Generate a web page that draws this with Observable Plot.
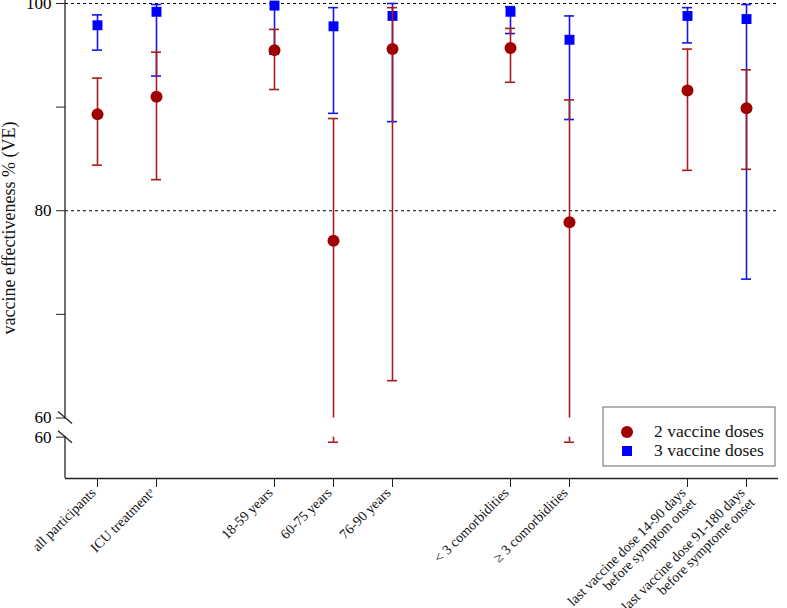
<!DOCTYPE html>
<html>
<head>
<meta charset="utf-8">
<script src="https://cdn.jsdelivr.net/npm/d3@7"></script>
<script src="https://cdn.jsdelivr.net/npm/@observablehq/plot@0.6"></script>
<style>
  html, body { margin: 0; padding: 0; background: #fff; }
  #chart { position: relative; width: 787px; height: 608px; }
  svg { font-family: "Liberation Serif", "DejaVu Serif", serif; }
</style>
</head>
<body>
<div id="chart"></div>
<script>
// ---- data ----
const categories = [
  "all participants",
  "ICU treatment\u1D43",
  "18-59 years",
  "60-75 years",
  "76-90 years",
  "< 3 comorbidities",
  "\u2265 3 comorbidities",
  "last vaccine dose 14-90 days\nbefore symptom onset",
  "last vaccine dose 91-180 days\nbefore symptome onset"
];
// group gaps sit after these category indices
const gapAfter = [1, 4, 6];

const series = ["2 vaccine doses", "3 vaccine doses"];

const twoVE  = [89.3, 91.0, 95.5, 77.1, 95.6, 95.7, 78.9, 91.6, 89.9];
const twoLo  = [84.4, 83.0, 91.7, 59.5, 63.6, 92.4, 59.5, 83.9, 84.0];
const twoHi  = [92.8, 95.3, 97.5, 88.9, 99.6, 97.6, 90.7, 95.6, 93.6];

const threeVE = [97.9, 99.2, 99.8, 97.8, 98.8, 99.2, 96.5, 98.8, 98.5];
const threeLo = [95.5, 93.0, 95.1, 89.4, 88.6, 97.1, 88.8, 96.2, 73.4];
const threeHi = [98.9, 99.9, 100.0, 99.6, 100.0, 99.7, 98.8, 99.6, 99.9];

const yTicks = [100, 90, 80, 70, 60, 59.99];
const yTickLabels = ["100", "", "80", "", "60", "60"];
const refLines = [100, 80];
const breakLow = 59.99, breakHigh = 60, yMin = 56, yMax = 100;
const gapUnits = 1.84; // visual gap of the axis break, in value units

// broken-axis mapping: values below the break are shifted down by the gap
const brk = v => (v >= breakHigh ? v : v - gapUnits);

// ---- build tables ----
const xDomain = [];
categories.forEach((c, i) => {
  xDomain.push(c);
  if (gapAfter.includes(i)) xDomain.push("\u00B7gap" + i);
});
const mk = (ve, lo, hi) => categories.map((c, i) => ({
  cat: c, ve: brk(ve[i]), lo: brk(lo[i]), hi: brk(hi[i]),
  upLo: brk(Math.max(lo[i], breakHigh)), below: lo[i] < breakHigh
}));
const rows2 = mk(twoVE, twoLo, twoHi);
const rows3 = mk(threeVE, threeLo, threeHi);
const below2 = rows2.filter(d => d.below);
const below3 = rows3.filter(d => d.below);
const tickPos = yTicks.map(brk);
const tickLabel = new Map(tickPos.map((p, i) => [p, yTickLabels[i]]));

const RED = "#a00000", REDBAR = "#a81c1c", BLUE = "#0000ff", BLUEBAR = "#1515f0";

const plot = Plot.plot({
  width: 787,
  height: 608,
  marginLeft: 65,
  marginRight: 9,
  marginTop: 3,
  marginBottom: 130,
  style: {fontFamily: "Liberation Serif, DejaVu Serif, serif", overflow: "visible"},
  x: {type: "band", domain: xDomain, paddingInner: 0.83, paddingOuter: 0.415, axis: null},
  y: {type: "linear", domain: [brk(yMin), yMax], axis: null},
  marks: [
    Plot.ruleY(refLines.map(brk), {stroke: "#000", strokeWidth: 1, strokeDasharray: "3,3"}),
    Plot.ruleY([brk(yMin)], {stroke: "#222", strokeWidth: 1.3}),
    Plot.axisY({ticks: tickPos, tickSize: 9, tickPadding: 5, fontSize: 17, stroke: "#222",
      tickFormat: d => tickLabel.get(d) ?? "", label: null}),
    Plot.axisX({ticks: categories, tickSize: 9, stroke: "#222", tickFormat: () => "", label: null}),
    // 3 doses
    Plot.ruleX(rows3, {x: "cat", y1: "upLo", y2: "hi", stroke: BLUEBAR, strokeWidth: 1.6}),
    Plot.ruleX(below3, {x: "cat", y1: "lo", y2: brk(breakLow), stroke: BLUEBAR, strokeWidth: 1.6}),
    Plot.tickY(rows3, {x: "cat", y: "lo", stroke: BLUEBAR, strokeWidth: 1.6}),
    Plot.tickY(rows3, {x: "cat", y: "hi", stroke: BLUEBAR, strokeWidth: 1.6}),
    Plot.dot(rows3, {x: "cat", y: "ve", symbol: "square", r: 5.6, fill: BLUE, stroke: null}),
    // 2 doses
    Plot.ruleX(rows2, {x: "cat", y1: "upLo", y2: "hi", stroke: REDBAR, strokeWidth: 1.6}),
    Plot.ruleX(below2, {x: "cat", y1: "lo", y2: brk(breakLow), stroke: REDBAR, strokeWidth: 1.6}),
    Plot.tickY(rows2, {x: "cat", y: "lo", stroke: REDBAR, strokeWidth: 1.6}),
    Plot.tickY(rows2, {x: "cat", y: "hi", stroke: REDBAR, strokeWidth: 1.6}),
    Plot.dot(rows2, {x: "cat", y: "ve", r: 6, fill: RED, stroke: null}),
    // category labels
    Plot.text(categories, {x: d => d, text: d => d, frameAnchor: "bottom", rotate: -45,
      textAnchor: "end", lineAnchor: "top", dy: 8, dx: -8, fontSize: 14, fill: "#111"})
  ]
});

document.getElementById("chart").appendChild(plot);

// ---- axis line with breaks, y title, legend ----
const svg = d3.select(plot);
const ys = plot.scale("y");
const xL = 65;
const yTop = ys.apply(yMax), yB1 = ys.apply(brk(breakHigh)), yB2 = ys.apply(brk(breakLow)), yBot = ys.apply(brk(yMin));
const g = svg.append("g").attr("stroke", "#222").attr("stroke-width", 1.3).attr("fill", "none");
g.append("line").attr("x1", xL).attr("x2", xL).attr("y1", yTop - 3).attr("y2", yB1 + 1);
g.append("line").attr("x1", xL).attr("x2", xL).attr("y1", yB2 - 1).attr("y2", yBot);
[yB1, yB2].forEach(yy => {
  g.append("line").attr("x1", xL - 7).attr("y1", yy - 6).attr("x2", xL + 7).attr("y2", yy + 6);
});

svg.append("text")
  .attr("transform", `translate(15,228) rotate(-90)`)
  .attr("text-anchor", "middle")
  .attr("font-size", 18)
  .attr("fill", "#111")
  .text("vaccine effectiveness % (VE)");

const lg = svg.append("g").attr("text-anchor", "start");
lg.append("rect").attr("x", 603).attr("y", 407).attr("width", 172).attr("height", 59)
  .attr("fill", "#fff").attr("stroke", "#666").attr("stroke-width", 1);
lg.append("circle").attr("cx", 627).attr("cy", 432).attr("r", 6).attr("fill", RED);
lg.append("rect").attr("x", 622).attr("y", 446).attr("width", 10).attr("height", 10).attr("fill", BLUE);
lg.append("text").attr("x", 654).attr("y", 437).attr("font-size", 17.5).attr("fill", "#111").text(series[0]);
lg.append("text").attr("x", 654).attr("y", 456).attr("font-size", 17.5).attr("fill", "#111").text(series[1]);
</script>
</body>
</html>
